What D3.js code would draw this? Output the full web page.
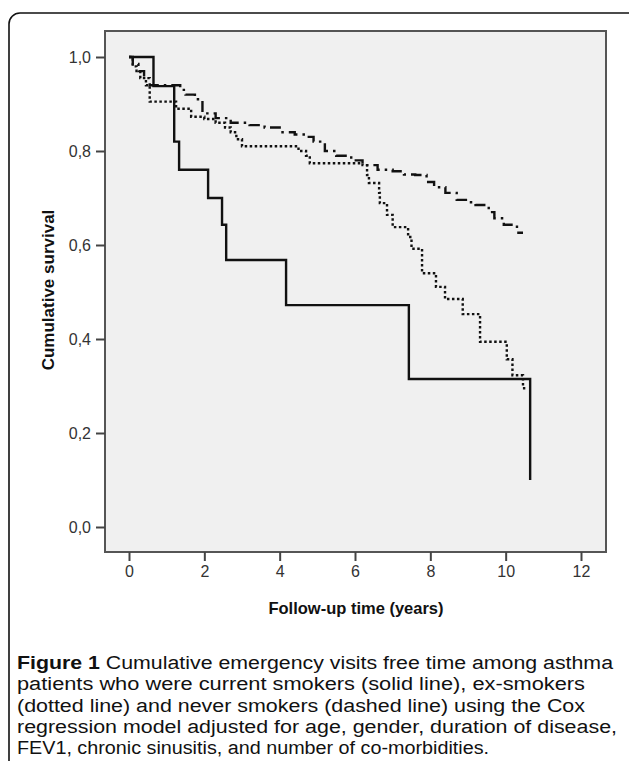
<!DOCTYPE html>
<html>
<head>
<meta charset="utf-8">
<script src="https://cdn.jsdelivr.net/npm/d3@7"></script>
<style>
	body { margin: 0; background: #fff; }
	svg { display: block; }
</style>
</head>
<body>
<div id="chart"></div>
<script>
// Step curves: [years, cumulative survival]
const currentSmokers = [
	[0, 1.0], [0.65, 0.938], [1.2, 0.82], [1.33, 0.76], [2.1, 0.70],
	[2.47, 0.643], [2.58, 0.568], [4.17, 0.472], [7.43, 0.315], [10.65, 0.10],
];
const exSmokers = [
	[0, 1.0], [0.1, 0.98], [0.2, 0.97], [0.3, 0.955], [0.45, 0.94],
	[0.55, 0.905], [1.25, 0.89], [1.65, 0.873], [2.0, 0.868], [2.3, 0.86],
	[2.55, 0.85], [2.7, 0.84], [2.85, 0.825], [3.0, 0.81], [4.5, 0.80],
	[4.7, 0.79], [4.8, 0.774], [6.2, 0.77], [6.32, 0.749], [6.37, 0.732],
	[6.64, 0.711], [6.66, 0.689], [6.85, 0.664], [7.0, 0.638], [7.41, 0.617],
	[7.5, 0.592], [7.78, 0.54], [8.15, 0.511], [8.39, 0.485], [8.86, 0.453],
	[9.32, 0.394], [10.03, 0.357], [10.18, 0.323], [10.46, 0.30], [10.49, 0.287],
];
const neverSmokers = [
	[0, 1.0], [0.1, 0.985], [0.25, 0.97], [0.4, 0.955], [0.55, 0.94],
	[1.36, 0.93], [1.5, 0.92], [1.75, 0.91], [1.95, 0.88], [2.3, 0.87],
	[2.7, 0.86], [3.2, 0.855], [3.6, 0.85], [4.0, 0.84], [4.4, 0.835],
	[4.7, 0.83], [4.9, 0.82], [5.2, 0.80], [5.5, 0.79], [5.9, 0.78],
	[6.2, 0.77], [6.6, 0.76], [7.0, 0.757], [7.3, 0.75], [7.6, 0.749],
	[7.9, 0.734], [8.1, 0.723], [8.4, 0.711], [8.7, 0.696], [9.0, 0.691],
	[9.2, 0.685], [9.55, 0.67], [9.7, 0.657], [9.95, 0.643], [10.3, 0.626],
	[10.46, 0.626],
];

const xTicks = [0, 2, 4, 6, 8, 10, 12];
const yTicks = [0, 0.2, 0.4, 0.6, 0.8, 1.0];
const xTitle = "Follow-up time (years)";
const yTitle = "Cumulative survival";
const captionLines = [
	["Figure 1", " Cumulative emergency visits free time among asthma"],
	["", "patients who were current smokers (solid line), ex-smokers"],
	["", "(dotted line) and never smokers (dashed line) using the Cox"],
	["", "regression model adjusted for age, gender, duration of disease,"],
	["", "FEV1, chronic sinusitis, and number of co-morbidities."],
];
const captionWidths = [596, 568, 568, 600, 472];

const W = 629, H = 761;
const svg = d3.select("#chart").append("svg").attr("width", W).attr("height", H);

// outer frame (runs off the right and bottom edges)
svg.append("rect")
	.attr("x", 9).attr("y", 13)
	.attr("width", 630).attr("height", 800)
	.attr("rx", 11)
	.attr("fill", "none")
	.attr("stroke", "#111")
	.attr("stroke-width", 1.6);

// plot box
const box = { left: 105, right: 606, top: 31, bottom: 552 };
svg.append("rect")
	.attr("x", box.left).attr("y", box.top)
	.attr("width", box.right - box.left).attr("height", box.bottom - box.top)
	.attr("fill", "#f0f0f0")
	.attr("stroke", "#555")
	.attr("stroke-width", 2);

const x = d3.scaleLinear().domain([0, 12]).range([129, 581]);
const y = d3.scaleLinear().domain([0, 1]).range([527, 57]);

const fmt = (d) => d3.format(".1f")(d).replace(".", ",");

const yAxis = svg.append("g")
	.attr("transform", `translate(${box.left},0)`)
	.call(d3.axisLeft(y).tickValues(yTicks).tickFormat(fmt).tickSize(9).tickPadding(5));
yAxis.select(".domain").remove();

const xAxis = svg.append("g")
	.attr("transform", `translate(0,${box.bottom})`)
	.call(d3.axisBottom(x).tickValues(xTicks).tickSize(9).tickPadding(5));
xAxis.select(".domain").remove();

svg.selectAll(".tick line").attr("stroke", "#444").attr("stroke-width", 2);
svg.selectAll(".tick text")
	.attr("font-family", "Liberation Sans, Arial, sans-serif")
	.attr("font-size", 16)
	.attr("fill", "#333");

svg.append("text")
	.attr("x", 356).attr("y", 614)
	.attr("text-anchor", "middle")
	.attr("font-family", "Liberation Sans, Arial, sans-serif")
	.attr("font-weight", "bold")
	.attr("font-size", 16.5)
	.attr("fill", "#111")
	.text(xTitle);

svg.append("text")
	.attr("transform", "translate(54,290) rotate(-90)")
	.attr("text-anchor", "middle")
	.attr("font-family", "Liberation Sans, Arial, sans-serif")
	.attr("font-weight", "bold")
	.attr("font-size", 17)
	.attr("fill", "#111")
	.text(yTitle);

// survival curves
const line = d3.line()
	.x((d) => x(d[0]))
	.y((d) => y(d[1]))
	.curve(d3.curveStepAfter);

const series = [
	{ data: currentSmokers, dash: null },
	{ data: exSmokers, dash: "2.5,2.5" },
	{ data: neverSmokers, dash: "11,5,2.5,5" },
];

svg.append("g")
	.selectAll("path")
	.data(series)
	.join("path")
	.attr("d", (d) => line(d.data))
	.attr("fill", "none")
	.attr("stroke", "#111")
	.attr("stroke-width", 2.4)
	.attr("stroke-dasharray", (d) => d.dash);

// caption
const cap = svg.append("g")
	.attr("font-family", "Liberation Sans Narrow, Liberation Sans, Arial, sans-serif")
	.attr("font-size", 18)
	.attr("fill", "#111");

captionLines.forEach((parts, i) => {
	const t = cap.append("text")
		.attr("x", 17)
		.attr("y", 669 + i * 21.3)
		.attr("textLength", captionWidths[i])
		.attr("lengthAdjust", "spacingAndGlyphs");
	if (parts[0]) t.append("tspan").attr("font-weight", "bold").text(parts[0]);
	t.append("tspan").text(parts[1]);
});
</script>
</body>
</html>
